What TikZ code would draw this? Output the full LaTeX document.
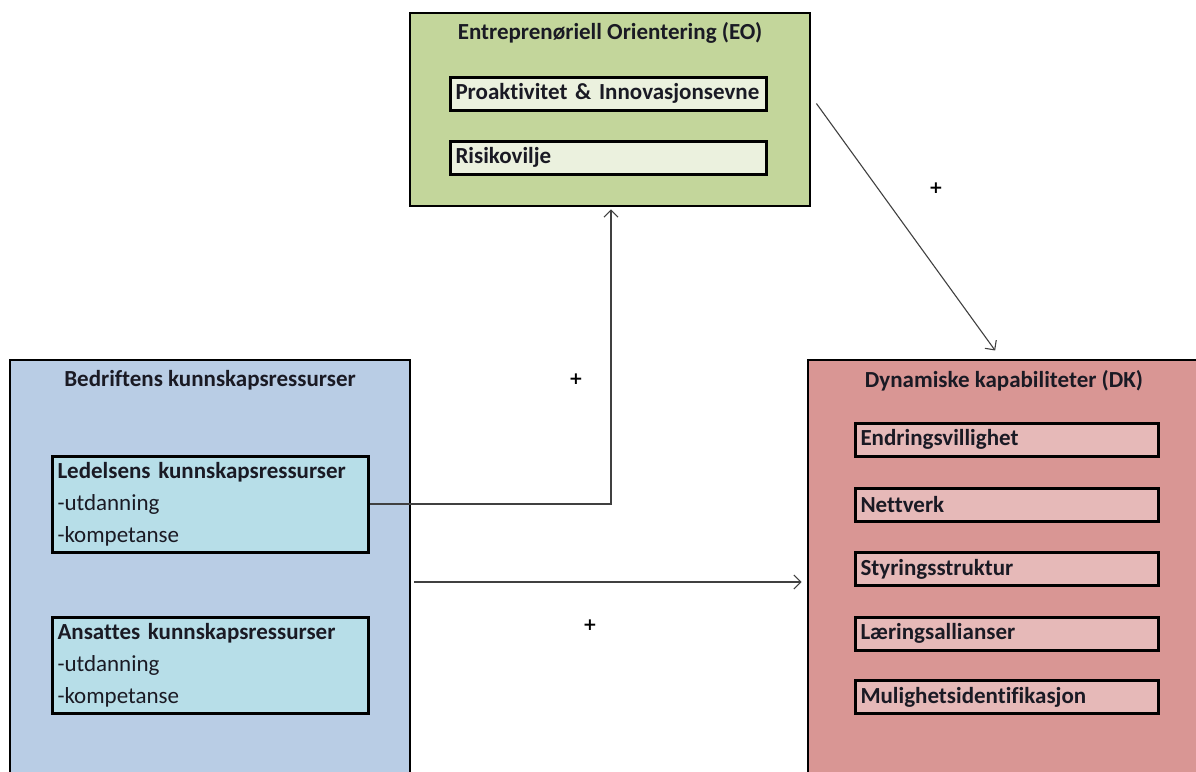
\documentclass[tikz,border=0pt]{standalone}
\usepackage{fontspec}
\setmainfont{Carlito}[Ligatures=NoCommon]
\newfontfamily\plusfont{DejaVu Sans}
\usetikzlibrary{arrows.meta, positioning}

\definecolor{eogreen}{HTML}{C3D69B}
\definecolor{eolight}{HTML}{EBF1DE}
\definecolor{bkblue}{HTML}{B9CDE5}
\definecolor{bkcyan}{HTML}{B7DEE8}
\definecolor{dkred}{HTML}{D99694}
\definecolor{dkpink}{HTML}{E6B9B8}
\definecolor{txt}{HTML}{1A1A24}

\tikzset{
  outerbox/.style={draw, line width=2.8pt, rectangle, inner sep=0pt},
  boxtitle/.style={font=\fontsize{23}{26}\selectfont\bfseries, text=txt, inner sep=0pt},
  innerbox/.style={draw, line width=3pt, rectangle, inner xsep=5.5pt, inner ysep=4pt, align=left,
    font=\fontsize{23}{32}\selectfont, text=txt},
  plussign/.style={font=\plusfont\fontsize{17}{17}\selectfont\bfseries, inner sep=0pt},
  arr/.style={->, draw=black!75, line width=1.1pt}
}

\begin{document}
\begin{tikzpicture}[x=1pt, y=-1pt, >={Straight Barb[length=7pt, width=14pt]}]

\useasboundingbox (0,0) rectangle (1196,771);
\clip (0,0) rectangle (1196,771);

% outer boxes
\node[outerbox, fill=eogreen, minimum width=400, minimum height=193] (eo) at (610,109.5) {};
\node[outerbox, fill=bkblue, minimum width=400, minimum height=440] (bk) at (210,580) {};
\node[outerbox, fill=dkred, minimum width=392, minimum height=440] (dk) at (1004,580) {};

\node[boxtitle, below=11pt of eo.north] (eotitle) {Entreprenøriell Orientering (EO)};
\node[boxtitle, below=12pt of bk.north] (bktitle) {Bedriftens kunnskapsressurser};
\node[boxtitle, below=12pt of dk.north] (dktitle) {Dynamiske kapabiliteter (DK)};

% EO
\node[innerbox, fill=eolight, minimum width=316, minimum height=33, text width=305] (pro) at (608,93.5) {\textbf{Proaktivitet \& Innovasjonsevne}};
\node[innerbox, fill=eolight, minimum width=316, minimum height=33, text width=305] (risk) at (608,157.5) {\textbf{Risikovilje}};

% kunnskapsressurser
\node[innerbox, fill=bkcyan, minimum width=316, minimum height=96, text width=305] (led) at (210,504)
  {\textbf{Ledelsens kunnskapsressurser}\\-utdanning\\-kompetanse};
\node[innerbox, fill=bkcyan, minimum width=316, minimum height=96, text width=305] (ans) at (210,665)
  {\textbf{Ansattes kunnskapsressurser}\\-utdanning\\-kompetanse};

% DK
\foreach \name/\ypos/\lbl in {dka/439.5/Endringsvillighet, dkb/504.5/Nettverk,
  dkc/569/Styringsstruktur, dkd/633.5/Læringsallianser, dke/697/Mulighetsidentifikasjon}
  \node[innerbox, fill=dkpink, minimum width=303, minimum height=33, text width=292] (\name) at (1006.5,\ypos) {\textbf{\lbl}};

% connectors
\coordinate (mid) at (0,582);
\draw[arr] (led.east) -| ([shift={(1,2)}]eo.south);
\draw[arr, shorten >=10pt] ([shift={(5,-6)}]eo.east) -- ([xshift=-3pt]dk.north);
\draw[arr, shorten <=3pt, shorten >=5pt] (bk.east |- mid) -- (dk.west |- mid);

\node[plussign] (p1) at (576,379) {+};
\node[plussign] (p2) at (936,188) {+};
\node[plussign] (p3) at (590,625) {+};

\end{tikzpicture}
\end{document}
